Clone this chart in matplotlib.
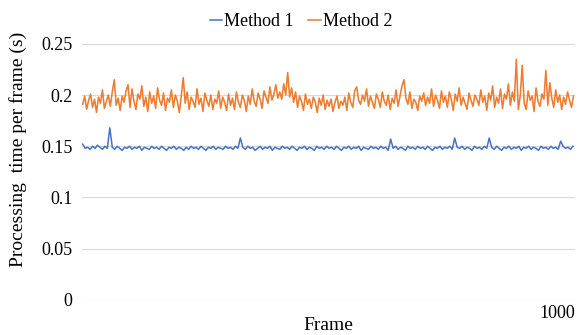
import matplotlib.pyplot as plt
import numpy as np

plt.rcParams['font.family'] = ['Liberation Serif', 'DejaVu Serif']

# values; method 1 every 5 frames, method 2 every 4 frames
frames1 = np.arange(0, 1000, 5) + 1
method1 = [
    0.152,0.148,0.149,0.147,0.150,0.148,0.151,0.149,0.147,0.150,0.148,0.168,0.149,0.147,0.150,0.148,0.146,0.149,0.148,0.150,
    0.147,0.149,0.148,0.150,0.146,0.149,0.148,0.147,0.150,0.148,0.149,0.147,0.150,0.148,0.146,0.149,0.148,0.150,0.147,0.149,
    0.148,0.146,0.149,0.147,0.150,0.148,0.149,0.147,0.150,0.148,0.146,0.149,0.148,0.150,0.147,0.149,0.148,0.147,0.150,0.148,
    0.149,0.147,0.150,0.148,0.158,0.149,0.147,0.150,0.148,0.149,0.146,0.148,0.150,0.147,0.149,0.148,0.150,0.146,0.149,0.148,
    0.147,0.150,0.148,0.149,0.147,0.150,0.148,0.146,0.149,0.148,0.150,0.147,0.149,0.148,0.146,0.150,0.148,0.149,0.147,0.150,
    0.148,0.149,0.147,0.150,0.148,0.146,0.149,0.148,0.150,0.147,0.149,0.148,0.150,0.146,0.149,0.148,0.147,0.150,0.148,0.149,
    0.147,0.150,0.148,0.149,0.146,0.157,0.148,0.150,0.147,0.149,0.148,0.146,0.150,0.148,0.149,0.147,0.150,0.148,0.149,0.147,
    0.150,0.148,0.146,0.149,0.148,0.150,0.147,0.149,0.148,0.150,0.147,0.158,0.149,0.148,0.150,0.147,0.149,0.148,0.146,0.150,
    0.148,0.149,0.147,0.150,0.148,0.158,0.149,0.147,0.150,0.148,0.146,0.149,0.148,0.150,0.147,0.149,0.148,0.150,0.146,0.149,
    0.148,0.150,0.147,0.149,0.148,0.146,0.150,0.148,0.149,0.147,0.150,0.148,0.149,0.147,0.155,0.150,0.148,0.149,0.147,0.150,
]
frames2 = np.arange(0, 1000, 4) + 1
method2 = [
    0.191,0.199,0.186,0.195,0.201,0.188,0.196,0.183,0.198,0.192,0.205,0.187,0.194,0.200,0.189,0.203,0.215,0.190,0.197,0.185,0.199,0.193,0.204,0.210,0.188,
    0.206,0.194,0.186,0.201,0.196,0.209,0.189,0.198,0.184,0.203,0.192,0.199,0.187,0.207,0.195,0.190,0.202,0.185,0.197,0.193,0.205,0.188,0.200,0.194,0.183,
    0.199,0.217,0.192,0.203,0.186,0.198,0.194,0.188,0.206,0.191,0.197,0.184,0.202,0.195,0.189,0.200,0.186,0.196,0.192,0.204,0.187,0.198,0.193,0.185,0.201,
    0.190,0.197,0.186,0.203,0.193,0.188,0.200,0.195,0.184,0.199,0.191,0.206,0.194,0.189,0.202,0.196,0.187,0.204,0.198,0.192,0.208,0.195,0.201,0.210,0.197,
    0.203,0.196,0.211,0.200,0.222,0.198,0.207,0.193,0.203,0.188,0.199,0.194,0.185,0.201,0.191,0.196,0.187,0.198,0.193,0.183,0.197,0.190,0.200,0.186,0.195,
    0.189,0.196,0.184,0.193,0.199,0.187,0.194,0.190,0.198,0.185,0.202,0.193,0.188,0.204,0.208,0.195,0.191,0.200,0.194,0.206,0.189,0.199,0.193,0.187,0.201,
    0.196,0.188,0.203,0.194,0.190,0.200,0.186,0.197,0.192,0.205,0.189,0.199,0.209,0.215,0.197,0.191,0.203,0.187,0.196,0.193,0.185,0.199,0.194,0.202,0.190,
    0.198,0.192,0.206,0.189,0.200,0.195,0.187,0.204,0.193,0.199,0.188,0.203,0.196,0.185,0.201,0.194,0.207,0.190,0.198,0.192,0.186,0.202,0.195,0.189,0.200,
    0.196,0.190,0.205,0.193,0.199,0.185,0.202,0.195,0.209,0.188,0.198,0.192,0.206,0.187,0.201,0.196,0.211,0.190,0.203,0.194,0.235,0.186,0.199,0.229,0.192,
    0.186,0.204,0.195,0.199,0.184,0.207,0.194,0.189,0.201,0.196,0.224,0.190,0.212,0.197,0.188,0.205,0.193,0.200,0.186,0.198,0.191,0.203,0.195,0.188,0.199,
]
yticks = [0, 0.05, 0.1, 0.15, 0.2, 0.25]
ytick_labels = ['0', '0.05', '0.1', '0.15', '0.2', '0.25']

fig = plt.figure(figsize=(5.79, 3.35), dpi=100)
ax = fig.add_axes([0.142, 0.105, 0.851, 0.764])

ax.plot(frames1, method1, color='#4472C4', lw=1.1, label='Method 1')
ax.plot(frames2, method2, color='#ED7D31', lw=1.15, label='Method 2')

ax.set_xlim(0, 1000)
ax.set_ylim(0, 0.25)
ax.set_yticks(yticks, ytick_labels, fontsize=13)
ax.set_xticks([1000], ['1000'], fontsize=13)
for lab in ax.get_xticklabels():
    lab.set_ha('right')
ax.tick_params(axis='y', length=0, pad=7)
ax.tick_params(axis='x', length=0, pad=4)
ax.grid(axis='y', color='#D9D9D9', lw=0.8)
ax.set_axisbelow(True)
for s in ax.spines.values():
    s.set_visible(False)

ax.set_xlabel('Frame', fontsize=14, va='top')
ax.xaxis.set_label_coords(0.5, -0.068)
ax.set_ylabel('Processing  time per frame (s)', fontsize=14, va='center')
ax.yaxis.set_label_coords(-0.13, 0.586)

fig.legend(loc='upper center', bbox_to_anchor=(0.52, 1.01), ncol=2, frameon=False,
           fontsize=13, handlelength=0.7, handletextpad=0.1, columnspacing=0.8)

fig.savefig('out.png', dpi=100)
